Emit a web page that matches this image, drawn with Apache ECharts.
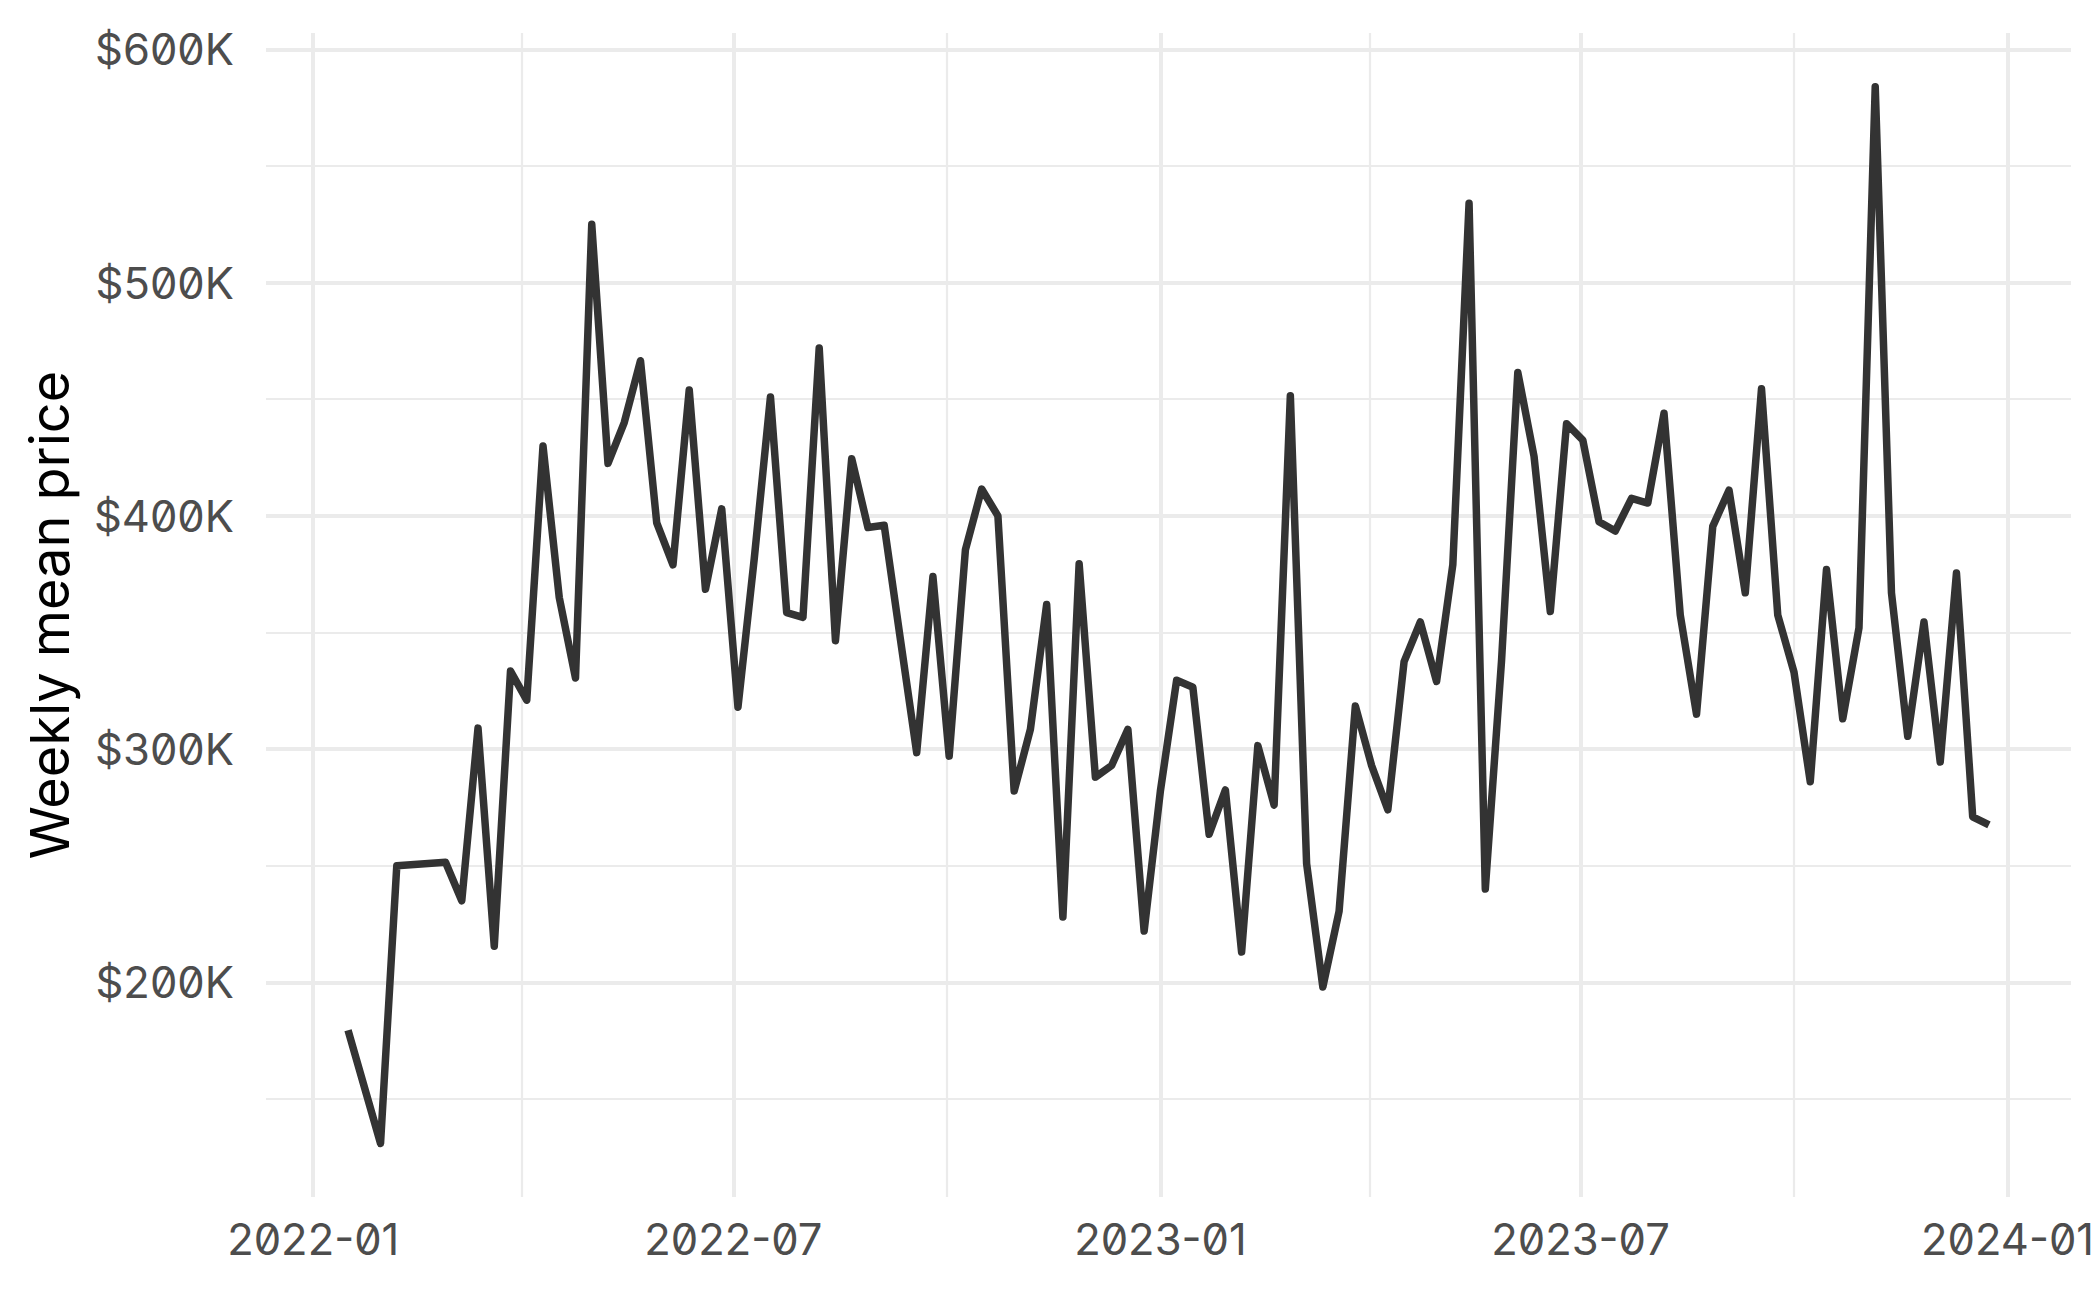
<!DOCTYPE html>
<html>
<head>
<meta charset="utf-8">
<script src="https://cdn.jsdelivr.net/npm/echarts@6/dist/echarts.min.js"></script>
<style>
  html, body { margin: 0; padding: 0; background: #fff; }
  #main { width: 2100px; height: 1297px; }
  /* slashed zero like the original tick labels */
  #main svg text {
    font-variant-numeric: slashed-zero !important;
    font-feature-settings: "zero" 1 !important;
  }
</style>
</head>
<body>
<div id="main"></div>
<script>
// weekly dates (week starting Sunday)
var weeks = [
  "2022-01-16", "2022-01-30", "2022-02-06", "2022-02-27", "2022-03-06", "2022-03-13",
  "2022-03-20", "2022-03-27", "2022-04-03", "2022-04-10", "2022-04-17", "2022-04-24",
  "2022-05-01", "2022-05-08", "2022-05-15", "2022-05-22", "2022-05-29", "2022-06-05",
  "2022-06-12", "2022-06-19", "2022-06-26", "2022-07-03", "2022-07-10", "2022-07-17",
  "2022-07-24", "2022-07-31", "2022-08-07", "2022-08-14", "2022-08-21", "2022-08-28",
  "2022-09-04", "2022-09-11", "2022-09-18", "2022-09-25", "2022-10-02", "2022-10-09",
  "2022-10-16", "2022-10-23", "2022-10-30", "2022-11-06", "2022-11-13", "2022-11-20",
  "2022-11-27", "2022-12-04", "2022-12-11", "2022-12-18", "2022-12-25", "2023-01-01",
  "2023-01-08", "2023-01-15", "2023-01-22", "2023-01-29", "2023-02-05", "2023-02-12",
  "2023-02-19", "2023-02-26", "2023-03-05", "2023-03-12", "2023-03-19", "2023-03-26",
  "2023-04-02", "2023-04-09", "2023-04-16", "2023-04-23", "2023-04-30", "2023-05-07",
  "2023-05-14", "2023-05-21", "2023-05-28", "2023-06-04", "2023-06-11", "2023-06-18",
  "2023-06-25", "2023-07-02", "2023-07-09", "2023-07-16", "2023-07-23", "2023-07-30",
  "2023-08-06", "2023-08-13", "2023-08-20", "2023-08-27", "2023-09-03", "2023-09-10",
  "2023-09-17", "2023-09-24", "2023-10-01", "2023-10-08", "2023-10-15", "2023-10-22",
  "2023-10-29", "2023-11-05", "2023-11-12", "2023-11-19", "2023-11-26", "2023-12-03",
  "2023-12-10", "2023-12-17", "2023-12-24"
];

// weekly mean price, in thousands of dollars
var meanPriceK = [
  179.5, 131, 250, 251.5, 235, 309,
  215.5, 333.5, 321, 430, 365, 330.5,
  525, 422.5, 440, 466.5, 397, 379,
  454, 368.5, 403, 318, 381.5, 451,
  358.5, 356.5, 472, 346.5, 424.5, 395,
  396, 347, 298.5, 374, 297, 385.5,
  411.5, 400, 282, 308.5, 362, 228,
  379.5, 288, 293, 308.5, 222, 282,
  329.5, 326.5, 263.5, 282.5, 213, 301.5,
  276, 451.5, 251, 198, 230.5, 318.5,
  293, 274, 337.5, 354.5, 329, 379,
  534, 240, 338, 461.5, 425.5, 359,
  439.5, 432.5, 397.5, 393.5, 407.5, 405.5,
  444, 357.5, 315, 395.5, 411, 367,
  454.5, 357.5, 333, 286, 377, 313,
  352, 584, 367, 305.5, 354.5, 294.5,
  375.5, 271, 267.5
];

var xBreaks = ["2022-01-01", "2022-07-01", "2023-01-01", "2023-07-01", "2024-01-01"];
var xMinorBreaks = ["2022-04-01", "2022-10-01", "2023-04-01", "2023-10-01"];
var yBreaks = [200000, 300000, 400000, 500000, 600000];
var yMinorBreaks = [150000, 250000, 350000, 450000, 550000];

var gridColor = "#EBEBEB";
var fontFamily = "Inter, 'Noto Sans', sans-serif";

function ts(s) { return Date.parse(s); }   // UTC milliseconds

var chart = echarts.init(document.getElementById("main"), null, { renderer: "svg" });

var seriesData = weeks.map(function (d, i) {
  return [ts(d), meanPriceK[i] * 1000];
});

function gridLines(xs, ys) {
  var out = [];
  xs.forEach(function (v) { out.push({ xAxis: ts(v) }); });
  ys.forEach(function (v) { out.push({ yAxis: v }); });
  return out;
}

var option = {
  animation: false,
  backgroundColor: "#ffffff",
  grid: { left: 266, right: 29, top: 33, bottom: 100, containLabel: false },
  xAxis: {
    type: "value",
    min: ts("2021-12-11T15:36:00Z"),
    max: ts("2024-01-28T08:24:00Z"),
    axisLine: { show: false },
    axisTick: { show: false },
    splitLine: { show: false },
    axisLabel: {
      customValues: xBreaks.map(ts),
      formatter: function (v) {
        var d = new Date(v);
        var m = d.getUTCMonth() + 1;
        return d.getUTCFullYear() + "-" + (m < 10 ? "0" + m : m);
      },
      color: "#4D4D4D",
      fontSize: 43.5,
      fontFamily: fontFamily,
      margin: 20
    }
  },
  yAxis: {
    type: "value",
    min: 108000,
    max: 607000,
    name: "Weekly mean price",
    nameLocation: "middle",
    nameGap: 190,
    nameTextStyle: { color: "#000000", fontSize: 54, fontFamily: fontFamily },
    axisLine: { show: false },
    axisTick: { show: false },
    splitLine: { show: false },
    axisLabel: {
      customValues: yBreaks,
      formatter: function (v) { return "$" + Math.round(v / 1000) + "K"; },
      color: "#4D4D4D",
      fontSize: 43.5,
      fontFamily: fontFamily,
      margin: 32
    }
  },
  series: [
    {
      name: "minor grid",
      type: "line",
      data: [],
      silent: true,
      z: 1,
      markLine: {
        silent: true,
        symbol: ["none", "none"],
        label: { show: false },
        lineStyle: { color: gridColor, width: 2.2, type: "solid" },
        emphasis: { disabled: true },
        data: gridLines(xMinorBreaks, yMinorBreaks)
      }
    },
    {
      name: "major grid",
      type: "line",
      data: [],
      silent: true,
      z: 1,
      markLine: {
        silent: true,
        symbol: ["none", "none"],
        label: { show: false },
        lineStyle: { color: gridColor, width: 4, type: "solid" },
        emphasis: { disabled: true },
        data: gridLines(xBreaks, yBreaks)
      }
    },
    {
      name: "Weekly mean price",
      type: "line",
      data: seriesData,
      z: 5,
      showSymbol: false,
      symbol: "none",
      lineStyle: { color: "#333333", width: 7.5, join: "round", cap: "butt" }
    }
  ]
};

chart.setOption(option);
</script>
</body>
</html>
